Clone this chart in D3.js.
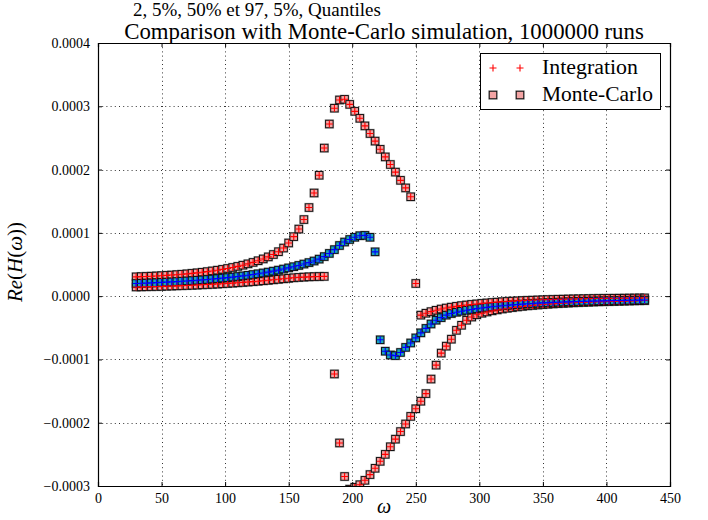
<!DOCTYPE html>
<html><head><meta charset="utf-8">
<script src="https://cdn.jsdelivr.net/npm/d3@7"></script>
<style>body{margin:0;background:#fff} svg{display:block}</style>
</head><body><svg id="c" width="708" height="520"></svg>
<script>
// omega values
const omega = [30,34,38,42,46,50,54,58,62,66,70,74,78,82,86,90,94,98,102,106,110,114,118,122,126,130,134,138,142,146,150,154,158,162,166,170,174,178,182,186,190,194,198,202,206,210,214,218,222,226,230,234,238,242,246,250,254,258,262,266,270,274,278,282,286,290,294,298,302,306,310,314,318,322,326,330,334,338,342,346,350,354,358,362,366,370,374,378,382,386,390,394,398,402,406,410,414,418,422,426,430];
// quantiles in units of 1e-6
const q975 = [30.5,30.8,31.1,31.5,31.9,32.3,32.8,33.3,33.9,34.5,35.2,36.0,36.8,37.7,38.7,39.8,41.0,42.3,43.7,45.3,47.0,48.9,51.0,53.3,55.9,58.8,62.0,65.8,70.2,76.0,84.0,94.0,106,121,140,163,191,234,272,297,310,311,303,292,281,269,257,245,232,220,208,196,183,171,157,20,-30,-27,-24.5,-22.3,-20.4,-18.8,-17.4,-16.1,-15.0,-14.0,-13.1,-12.3,-11.5,-10.8,-10.1,-9.5,-8.9,-8.4,-7.9,-7.5,-7.1,-6.7,-6.4,-6.1,-5.8,-5.5,-5.3,-5.0,-4.8,-4.6,-4.4,-4.3,-4.1,-4.0,-3.8,-3.7,-3.6,-3.5,-3.4,-3.3,-3.2,-3.1,-3.0,-2.9,-2.8];
const q50 = [20.0,20.3,20.6,21.0,21.3,21.7,22.1,22.5,23.0,23.5,24.0,24.5,25.1,25.7,26.3,27.0,27.7,28.5,29.3,30.1,31.0,32.0,33.0,34.1,35.3,36.6,38.0,39.5,41.1,42.8,44.6,46.5,48.5,50.7,53.0,55.5,58.5,62.5,67.5,73.5,80,85.5,89.5,93,95.5,96,93,70,-69,-87,-93,-94,-89,-81,-74,-66,-58,-51,-44,-38,-34,-30,-27.5,-25.5,-23.8,-22.3,-21,-19.8,-18.7,-17.7,-16.8,-16.0,-15.2,-14.5,-13.8,-13.2,-12.6,-12.1,-11.6,-11.1,-10.7,-10.3,-9.9,-9.6,-9.3,-9.0,-8.7,-8.5,-8.2,-8.0,-7.8,-7.6,-7.4,-7.2,-7.0,-6.9,-6.7,-6.6,-6.4,-6.3,-6.2];
const q025 = [14.5,14.7,14.9,15.1,15.3,15.5,15.8,16.0,16.3,16.6,16.9,17.2,17.5,17.9,18.3,18.7,19.1,19.6,20.1,20.6,21.1,21.7,22.3,22.9,23.6,24.3,25.0,25.8,26.6,27.4,28.2,29.0,29.6,30.1,30.5,30.8,31.0,31.2,null,-123,-232,-285,-305,-302,-298,-291,-282,-272,-261,-250,-238,-226,-214,-202,-190,-178,-166,-154,-131,-109,-90,-79,-68,-54,-46,-38,-33,-29.5,-27,-25,-23.2,-21.7,-20.3,-19.1,-18.0,-17.0,-16.1,-15.3,-14.6,-13.9,-13.3,-12.7,-12.2,-11.7,-11.3,-10.9,-10.5,-10.1,-9.8,-9.5,-9.2,-8.9,-8.7,-8.4,-8.2,-8.0,-7.8,-7.6,-7.4,-7.2,-7.0];
const xTicks = [0,50,100,150,200,250,300,350,400,450];
const yTicks = [-300,-200,-100,0,100,200,300,400];
const yTickLabels = ["\u22120.0003","\u22120.0002","\u22120.0001","0.0000","0.0001","0.0002","0.0003","0.0004"];
const titleLines = ["2, 5%, 50% et 97, 5%, Quantiles","Comparison with Monte-Carlo simulation, 1000000 runs"];
const legendLabels = ["Integration","Monte-Carlo"];

const FONT = "'Liberation Serif', 'DejaVu Serif', serif";
const svg = d3.select("#c");
const X0 = 98, X1 = 670, Y0 = 43, Y1 = 486;
const x = d3.scaleLinear().domain([0,450]).range([X0,X1]);
const y = d3.scaleLinear().domain([-300,400]).range([Y1,Y0]);

svg.append("defs").append("clipPath").attr("id","clip")
  .append("rect").attr("x",X0).attr("y",Y0).attr("width",X1-X0).attr("height",Y1-Y0);

// grid
const grid = svg.append("g").attr("stroke","#000").attr("stroke-width",0.8).attr("stroke-dasharray","1,3.2");
xTicks.slice(1,-1).forEach(t => grid.append("line").attr("x1",Math.round(x(t))+0.5).attr("x2",Math.round(x(t))+0.5).attr("y1",Y0).attr("y2",Y1));
yTicks.slice(1,-1).forEach(t => grid.append("line").attr("y1",Math.round(y(t))+0.5).attr("y2",Math.round(y(t))+0.5).attr("x1",X0).attr("x2",X1));

// data
const plot = svg.append("g").attr("clip-path","url(#clip)");
const series = [
  {vals:q975, fill:"#f4a4a4", cross:"#ff0000"},
  {vals:q025, fill:"#f4a4a4", cross:"#ff0000"},
  {vals:q50,  fill:"#1aa6b8", cross:"#0000ff"}
];
function square(g, cx, cy, fill){
  g.append("rect").attr("x",cx-4.75).attr("y",cy-4.75).attr("width",9.5).attr("height",9.5)
    .attr("fill","rgba(0,0,0,0.28)");
  g.append("rect").attr("x",cx-3.75).attr("y",cy-3.75).attr("width",7.5).attr("height",7.5)
    .attr("fill",fill).attr("stroke","#111").attr("stroke-width",1);
}
function cross(g, cx, cy, col){
  g.append("path").attr("d",`M${cx-3.5},${cy}H${cx+3.5}M${cx},${cy-3.5}V${cy+3.5}`)
    .attr("stroke",col).attr("stroke-width",1.1).attr("fill","none");
}
series.forEach(s => {
  const g = plot.append("g");
  omega.forEach((w,i) => { const v = s.vals[i]; if (v==null) return; square(g, x(w), y(v), s.fill); });
});
series.forEach(s => {
  const g = plot.append("g");
  omega.forEach((w,i) => { const v = s.vals[i]; if (v==null) return; cross(g, x(w), y(v), s.cross); });
});

// axes (inward ticks)
const fmtX = d3.format("d");
svg.append("g").attr("transform",`translate(0,${Y1})`).call(d3.axisBottom(x).tickValues(xTicks).tickSize(-4).tickPadding(7).tickFormat(fmtX));
svg.append("g").attr("transform",`translate(0,${Y0})`).call(d3.axisTop(x).tickValues(xTicks).tickSize(-4).tickFormat(""));
svg.append("g").attr("transform",`translate(${X0},0)`).call(d3.axisLeft(y).tickValues(yTicks).tickSize(-4).tickPadding(8).tickFormat((d,i)=>yTickLabels[i]));
svg.append("g").attr("transform",`translate(${X1},0)`).call(d3.axisRight(y).tickValues(yTicks).tickSize(-4).tickFormat(""));
svg.selectAll(".domain").attr("stroke","#000").attr("stroke-width",1.2);
svg.selectAll(".tick line").attr("stroke","#000");
svg.selectAll(".tick text").attr("font-family",FONT).attr("font-size",14).attr("fill","#000");

// fit helper
function fit(t, w){ const l = t.node().getComputedTextLength(); const fs = +t.attr("font-size"); t.attr("font-size", fs*w/l); }

// titles
const t1 = svg.append("text").attr("x",133).attr("y",16).attr("font-family",FONT).attr("font-size",19).text(titleLines[0]);
fit(t1, 248);
const t2 = svg.append("text").attr("x",384).attr("y",39).attr("text-anchor","middle").attr("font-family",FONT).attr("font-size",19).text(titleLines[1]);
fit(t2, 520);

// axis labels
svg.append("text").attr("x",384).attr("y",513).attr("text-anchor","middle").attr("font-family",FONT).attr("font-style","italic").attr("font-size",20).text("\u03c9");
svg.append("text").attr("transform","translate(22,262) rotate(-90)").attr("text-anchor","middle").attr("font-family",FONT).attr("font-size",21)
  .html('<tspan font-style="italic">Re</tspan>(<tspan font-style="italic">H</tspan>(<tspan font-style="italic">\u03c9</tspan>))');

// legend
const lg = svg.append("g");
lg.append("rect").attr("x",480.5).attr("y",53.5).attr("width",180).attr("height",56).attr("fill","#fff").attr("stroke","#000").attr("stroke-width",1);
[493,520].forEach(cx => { cross(lg, cx, 68, "#ff0000"); square(lg, cx, 95, "#f4a4a4"); });
const l1 = lg.append("text").attr("x",542).attr("y",74).attr("font-family",FONT).attr("font-size",18).text(legendLabels[0]); fit(l1, 96);
const l2 = lg.append("text").attr("x",542).attr("y",101).attr("font-family",FONT).attr("font-size",18).text(legendLabels[1]); fit(l2, 111);
</script></body></html>
